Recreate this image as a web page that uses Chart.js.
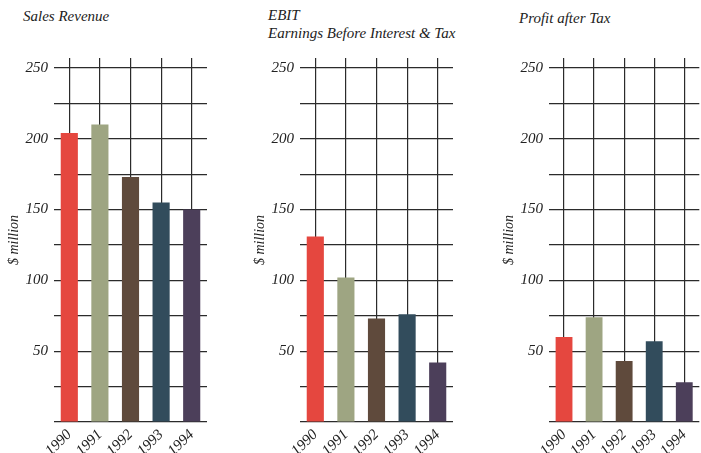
<!DOCTYPE html>
<html>
<head>
<meta charset="utf-8">
<script src="https://cdn.jsdelivr.net/npm/chart.js@4/dist/chart.umd.min.js"></script>
<style>
    body { margin: 0; background: #fff; }
    #wrap { position: relative; width: 701px; height: 453px; overflow: hidden; }
    canvas { position: absolute; top: 0; }
    .ttl { position: absolute; font: italic 15px "Liberation Serif", serif; color: #222; line-height: 18px; }
</style>
</head>
<body>
<div id="wrap">
    <div class="ttl" style="left:23px; top:7px;">Sales Revenue</div>
    <div class="ttl" style="left:268px; top:6px;">EBIT<br>Earnings Before Interest &amp; Tax</div>
    <div class="ttl" style="left:519px; top:9px;">Profit after Tax</div>
    <canvas id="c1" width="209" height="453" style="left:0px"></canvas>
    <canvas id="c2" width="209" height="453" style="left:246px"></canvas>
    <canvas id="c3" width="206" height="453" style="left:495px"></canvas>
</div>
<script>
const years = ['1990', '1991', '1992', '1993', '1994'];
const salesRevenue = [204, 210, 173, 155, 150];
const ebit = [131, 102, 73, 76, 42];
const profitAfterTax = [60, 74, 43, 57, 28];
const yTicks = [0, 25, 50, 75, 100, 125, 150, 175, 200, 225, 250];
const yLabels = [50, 100, 150, 200, 250];
const barColors = ['#e5473f', '#9ea582', '#5f4a3c', '#324c5c', '#4c3f5a'];

const serif = '"Liberation Serif", "Times New Roman", serif';

function makeChart(id, values, padRight) {
    const ctx = document.getElementById(id).getContext('2d');
    return new Chart(ctx, {
        type: 'bar',
        data: {
            labels: years,
            datasets: [{
                data: values,
                backgroundColor: barColors,
                borderWidth: 0,
                barPercentage: 0.56,
                categoryPercentage: 1.0
            }]
        },
        options: {
            responsive: false,
            animation: false,
            layout: { padding: { top: 58, right: padRight, bottom: 0, left: 0 } },
            plugins: { legend: { display: false }, tooltip: { enabled: false } },
            scales: {
                x: {
                    offset: true,
                    grid: { offset: false, color: '#2b2b2b', lineWidth: 1.2, drawTicks: false },
                    border: { display: false },
                    ticks: {
                        minRotation: 45,
                        maxRotation: 45,
                        padding: 4,
                        color: '#222',
                        font: { family: serif, style: 'italic', size: 15 }
                    },
                    afterFit: scale => { scale.height = 31; }
                },
                y: {
                    min: 0,
                    max: 257,
                    afterBuildTicks: scale => {
                        scale.ticks = yTicks.map(v => ({ value: v }));
                    },
                    grid: { color: '#2b2b2b', lineWidth: 1.2, drawTicks: false },
                    border: { display: false },
                    ticks: {
                        padding: 6,
                        color: '#222',
                        font: { family: serif, style: 'italic', size: 15 },
                        callback: v => yLabels.includes(v) ? v : ''
                    },
                    title: {
                        display: true,
                        text: '$ million',
                        color: '#222',
                        padding: { top: 6, bottom: 0 },
                        font: { family: serif, style: 'italic', size: 14 }
                    },
                    afterFit: scale => { scale.width = 54; }
                }
            }
        }
    });
}

makeChart('c1', salesRevenue, 2);
makeChart('c2', ebit, 2);
makeChart('c3', profitAfterTax, 0);
</script>
</body>
</html>
